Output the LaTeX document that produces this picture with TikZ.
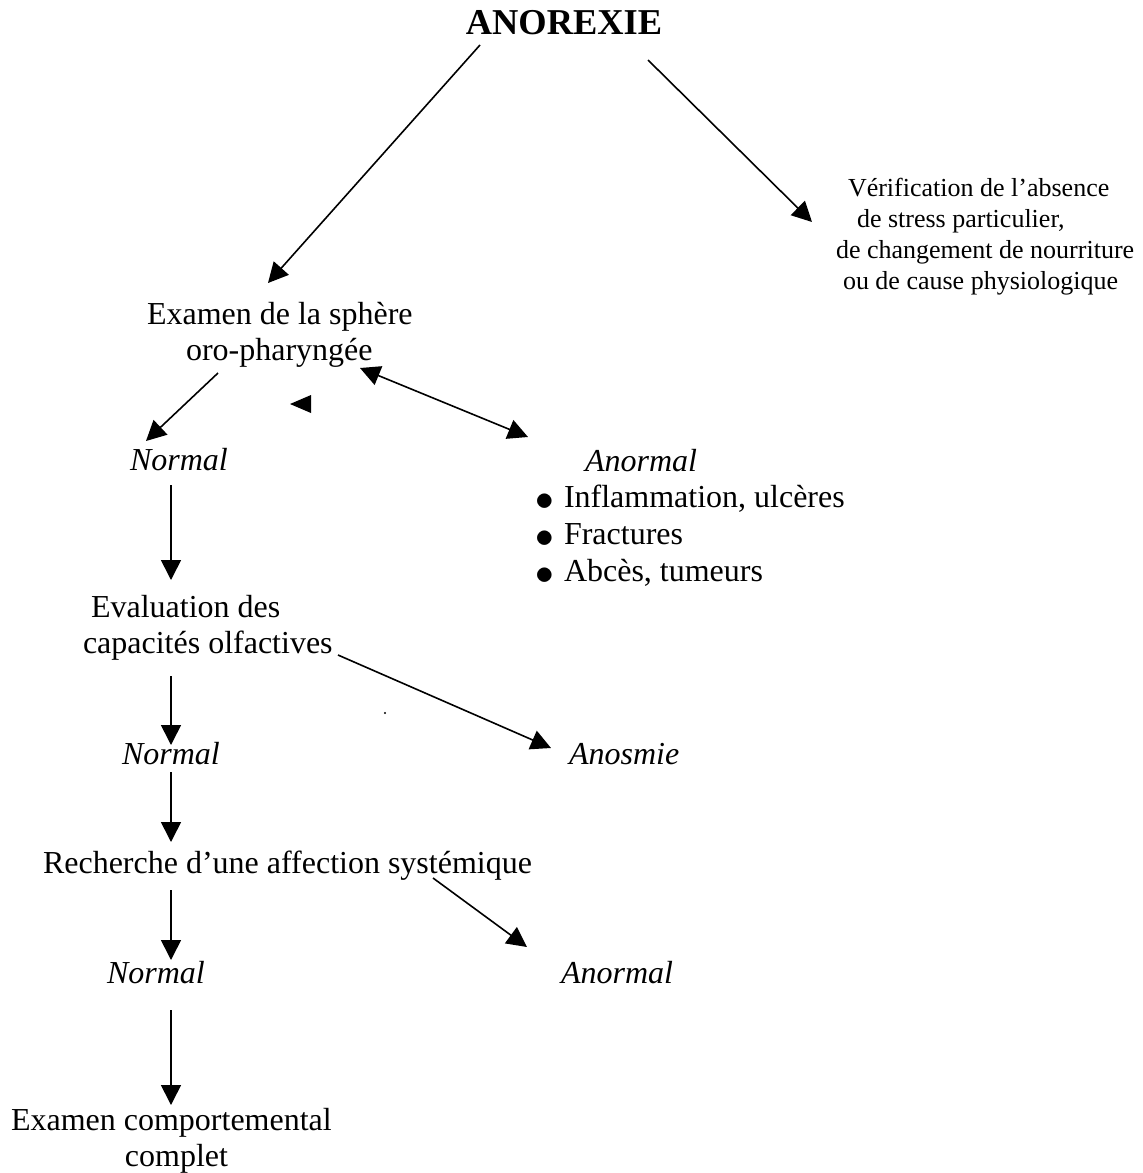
\documentclass[tikz,border=0pt]{standalone}
\usepackage{fontspec}
\setmainfont{Liberation Serif}
\usetikzlibrary{arrows.meta}
\newcommand\bulitem{\makebox[26pt][l]{\hspace*{-3pt}\raisebox{-3pt}{\scalebox{1.5}{$\bullet$}}}}
\tikzset{
  txt/.style={inner sep=0pt, outer sep=0pt, anchor=base west, align=left,
    font=\fontsize{32}{36.6}\selectfont},
  small/.style={inner sep=0pt, outer sep=0pt, anchor=base west, align=left,
    font=\fontsize{26}{31}\selectfont},
  arr/.style={line width=1.6pt, -{Triangle[length=20pt,width=20pt]}},
  darr/.style={line width=1.6pt, {Triangle[length=20pt,width=20pt]}-{Triangle[length=20pt,width=20pt]}},
}
\begin{document}
\begin{tikzpicture}[x=1pt,y=-1pt]
\useasboundingbox (0,0) rectangle (1143,1173);
\node[inner sep=0pt, anchor=base, font=\fontsize{36.4}{40}\selectfont\bfseries] (anorexie) at (564,34) {ANOREXIE};
\node[small] (verif) at (836,289) {\hspace*{12pt}Vérification de l’absence\\\hspace*{21pt}de stress particulier,\\de changement de nourriture\\\hspace*{7pt}ou de cause physiologique};
\node[txt] (examen) at (147,360.6) {Examen de la sphère\\\hspace*{39pt}oro-pharyngée};
\node[txt] (normalA) at (130,470) {\itshape Normal};
\node[txt] (anormalA) at (538,581) {\hspace*{47pt}\itshape Anormal\\\bulitem Inflammation, ulcères\\\bulitem Fractures\\\bulitem Abcès, tumeurs};
\node[txt] (evaluation) at (83,653.6) {\hspace*{8pt}Evaluation des\\capacités olfactives};
\node[txt] (normalB) at (122,764) {\itshape Normal};
\node[txt] (anosmie) at (569,764) {\itshape Anosmie};
\node[txt] (recherche) at (43,873) {Recherche d’une affection systémique};
\node[txt] (normalC) at (107,983) {\itshape Normal};
\node[txt] (anormalB) at (561,983) {\itshape Anormal};
\node[txt] (examenc) at (11,1166.6) {Examen comportemental\\\hspace*{114pt}complet};

\draw[arr] ([shift={(-84,11)}]anorexie.base) -- ([shift={(121,-77.6)}]examen.base west);
\draw[arr] ([shift={(84,26)}]anorexie.base) -- ([shift={(-24,-67)}]verif.base west);
\draw[arr] ([shift={(71,12.4)}]examen.base west) -- ([shift={(16,-29)}]normalA.base west);
\draw[darr] ([shift={(213,7.4)}]examen.base west) -- ([shift={(-10,-144)}]anormalA.base west);
\fill ([shift={(143,43.4)}]examen.base west) -- ++(21,-9) -- ++(0,18) -- cycle;
\draw[arr] ([shift={(41,15)}]normalA.base west) -- ([shift={(88,-73.6)}]evaluation.base west);
\draw[arr] ([shift={(255,1.4)}]evaluation.base west) -- ([shift={(-18,-16)}]anosmie.base west);
\fill ([shift={(302,59.4)}]evaluation.base west) circle (1.2);
\draw[arr] ([shift={(88,22.4)}]evaluation.base west) -- ([shift={(49,-19)}]normalB.base west);
\draw[arr] ([shift={(49,8)}]normalB.base west) -- ([shift={(128,-31)}]recherche.base west);
\draw[arr] ([shift={(128,17)}]recherche.base west) -- ([shift={(64,-23)}]normalC.base west);
\draw[arr] ([shift={(390,5)}]recherche.base west) -- ([shift={(-34,-36)}]anormalB.base west);
\draw[arr] ([shift={(64,27)}]normalC.base west) -- ([shift={(160,-61.6)}]examenc.base west);
\end{tikzpicture}
\end{document}
